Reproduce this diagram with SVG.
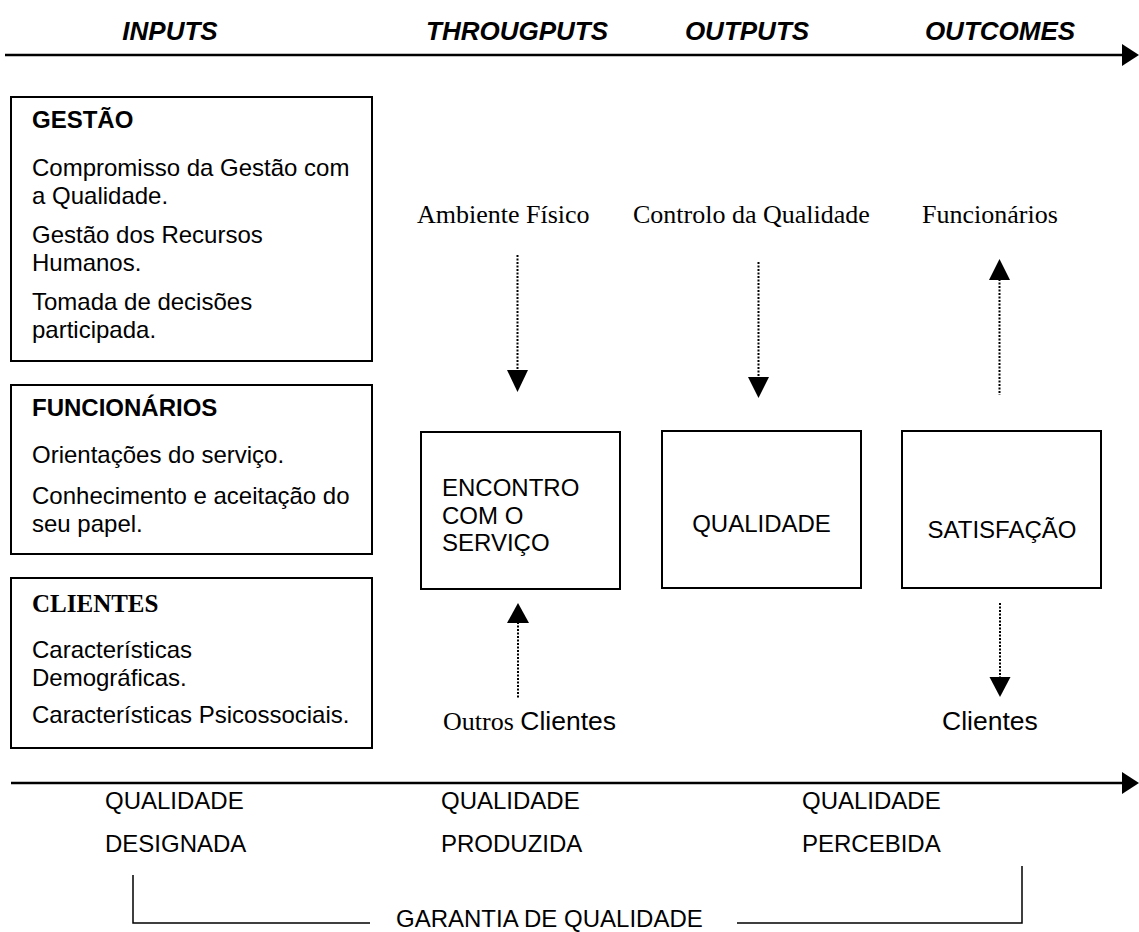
<svg xmlns="http://www.w3.org/2000/svg" width="1139" height="932" viewBox="0 0 1139 932">
  <style>
    .hdr { font-family: "Liberation Sans", Arial, sans-serif; font-size: 26px; font-weight: bold; font-style: italic; fill: #000; }
    .sans { font-family: "Liberation Sans", Arial, sans-serif; font-size: 24px; fill: #000; }
    .sansl { font-family: "Liberation Sans", Arial, sans-serif; font-size: 26.5px; fill: #000; }
    .sansb { font-family: "Liberation Sans", Arial, sans-serif; font-size: 24px; font-weight: bold; fill: #000; }
    .serif { font-family: "Liberation Serif", "Times New Roman", serif; font-size: 26px; fill: #000; }
    .serifb { font-family: "Liberation Serif", "Times New Roman", serif; font-size: 25px; font-weight: bold; fill: #000; }
    .box { fill: #fff; stroke: #000; stroke-width: 2; }
    .axis { stroke: #000; stroke-width: 2.5; fill: none; }
    .dot { stroke: #000; stroke-width: 2; stroke-dasharray: 2 1.5; fill: none; }
    .line { stroke: #000; stroke-width: 1.5; fill: none; }
    .head { fill: #000; }
  </style>
  <rect width="1139" height="932" fill="#fff"/>

  <!-- column headers -->
  <g id="headers">
    <text class="hdr" x="170" y="40" text-anchor="middle">INPUTS</text>
    <text class="hdr" x="517" y="40" text-anchor="middle">THROUGPUTS</text>
    <text class="hdr" x="747" y="40" text-anchor="middle">OUTPUTS</text>
    <text class="hdr" x="1000" y="40" text-anchor="middle">OUTCOMES</text>
  </g>

  <!-- input boxes -->
  <g id="gestao">
    <rect class="box" x="11" y="97" width="361" height="264"/>
    <text class="sansb" x="32" y="128">GESTÃO</text>
    <text class="sans" x="32" y="176">Compromisso da Gestão com</text>
    <text class="sans" x="32" y="203.5">a Qualidade.</text>
    <text class="sans" x="32" y="243">Gestão dos Recursos</text>
    <text class="sans" x="32" y="270.5">Humanos.</text>
    <text class="sans" x="32" y="310">Tomada de decisões</text>
    <text class="sans" x="32" y="337.5">participada.</text>
  </g>

  <g id="funcionarios">
    <rect class="box" x="11" y="385" width="361" height="169"/>
    <text class="sansb" x="32" y="416">FUNCIONÁRIOS</text>
    <text class="sans" x="32" y="463">Orientações do serviço.</text>
    <text class="sans" x="32" y="504">Conhecimento e aceitação do</text>
    <text class="sans" x="32" y="531.5">seu papel.</text>
  </g>

  <g id="clientes">
    <rect class="box" x="11" y="578" width="361" height="170"/>
    <text class="serifb" x="32" y="612">CLIENTES</text>
    <text class="sans" x="32" y="658">Características</text>
    <text class="sans" x="32" y="685.5">Demográficas.</text>
    <text class="sans" x="32" y="723">Características Psicossociais.</text>
  </g>

  <!-- process boxes -->
  <g id="encontro">
    <rect class="box" x="421" y="432" width="199" height="157"/>
    <text class="sans" x="442" y="496">ENCONTRO</text>
    <text class="sans" x="442" y="523.5">COM O</text>
    <text class="sans" x="442" y="551">SERVIÇO</text>
  </g>

  <g id="qualidade">
    <rect class="box" x="662" y="431" width="199" height="157"/>
    <text class="sans" x="761.5" y="532" text-anchor="middle">QUALIDADE</text>
  </g>

  <g id="satisfacao">
    <rect class="box" x="902" y="431" width="199" height="157"/>
    <text class="sans" x="1002" y="538" text-anchor="middle">SATISFAÇÃO</text>
  </g>

  <!-- external factor labels -->
  <g id="ambiente">
    <text class="serif" x="417" y="223">Ambiente Físico</text>
  </g>
  <g id="controlo">
    <text class="serif" x="633" y="223">Controlo da Qualidade</text>
  </g>
  <g id="funcionarios-out">
    <text class="serif" x="922" y="223">Funcionários</text>
  </g>
  <g id="outros-clientes">
    <text x="443" y="730"><tspan class="serif">Outros </tspan><tspan class="sansl">Clientes</tspan></text>
  </g>
  <g id="clientes-out">
    <text class="sansl" x="942" y="730">Clientes</text>
  </g>

  <!-- connectors -->
  <g id="connectors">
    <!-- Ambiente Físico -> Encontro -->
    <line class="dot" x1="517.5" y1="255" x2="517.5" y2="371"/>
    <polygon class="head" points="507,370 528,370 517.5,392"/>
    <!-- Controlo da Qualidade -> Qualidade -->
    <line class="dot" x1="758.5" y1="262" x2="758.5" y2="378"/>
    <polygon class="head" points="748,377 769,377 758.5,398"/>
    <!-- Satisfação -> Funcionários -->
    <line class="dot" x1="999.5" y1="279" x2="999.5" y2="395"/>
    <polygon class="head" points="989,280 1010,280 999.5,259"/>
    <!-- Outros Clientes -> Encontro -->
    <line class="dot" x1="518" y1="622" x2="518" y2="698"/>
    <polygon class="head" points="507,623 529,623 518,603"/>
    <!-- Satisfação -> Clientes -->
    <line class="dot" x1="1000" y1="603" x2="1000" y2="678"/>
    <polygon class="head" points="989.5,677 1010.5,677 1000,697"/>
  </g>

  <!-- time axes -->
  <g id="axes">
    <line class="axis" x1="5" y1="55" x2="1124" y2="55"/>
    <polygon class="head" points="1122,44 1139,55 1122,66"/>
    <line class="axis" x1="11" y1="783" x2="1124" y2="783"/>
    <polygon class="head" points="1122,772 1139,783 1122,794"/>
  </g>

  <!-- quality stages -->
  <g id="q-designada">
    <text class="sans" x="105" y="809">QUALIDADE</text>
    <text class="sans" x="105" y="852">DESIGNADA</text>
  </g>
  <g id="q-produzida">
    <text class="sans" x="441" y="809">QUALIDADE</text>
    <text class="sans" x="441" y="852">PRODUZIDA</text>
  </g>
  <g id="q-percebida">
    <text class="sans" x="802" y="809">QUALIDADE</text>
    <text class="sans" x="802" y="852">PERCEBIDA</text>
  </g>

  <!-- quality assurance bracket -->
  <g id="garantia">
    <polyline class="line" points="133,875 133,923 370,923"/>
    <polyline class="line" points="737,923 1022,923 1022,866"/>
    <text class="sans" x="396" y="927">GARANTIA DE QUALIDADE</text>
  </g>
</svg>
